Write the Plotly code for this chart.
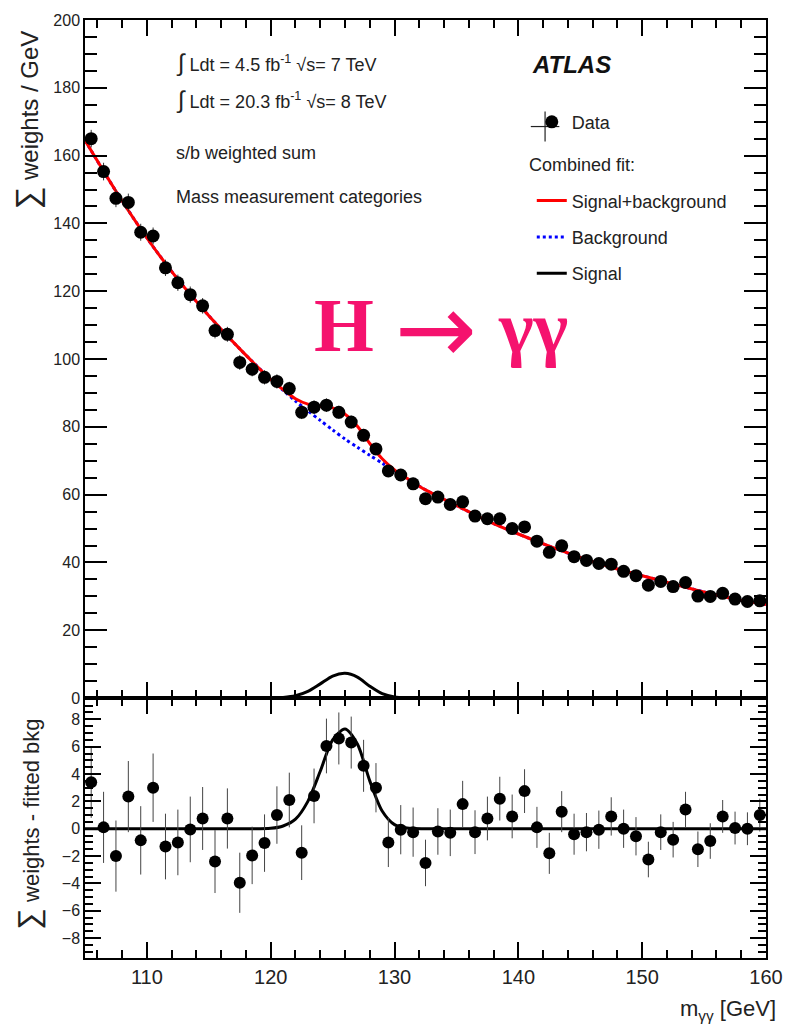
import plotly.graph_objects as go

# ---------------- data ----------------
mass = [105.5 + i for i in range(55)]  # bin centres, 1 GeV bins

weights = [165.0, 155.3, 147.4, 146.2, 137.4, 136.3, 126.9, 122.5, 119.0, 115.7,
           108.4, 107.3, 99.0, 97.0, 94.6, 93.4, 91.3, 84.3, 85.8, 86.4,
           84.3, 81.4, 77.5, 73.5, 67.0,
           65.8, 63.2, 58.8, 59.3, 57.1, 57.9, 53.7, 52.9, 52.9, 50.0,
           50.5, 46.3, 43.0, 44.9, 41.7, 40.6, 39.7, 39.5, 37.4, 36.1,
           33.3, 34.4, 32.9, 34.1, 30.1, 30.0, 30.9, 29.2, 28.5, 28.7]

residual = [3.4, 0.1, -2.0, 2.35, -0.85, 3.0, -1.3, -1.0, -0.05, 0.75,
            -2.4, 0.75, -3.95, -1.95, -1.05, 1.0, 2.1, -1.75, 2.4, 6.05,
            6.6, 6.3, 4.6, 3.0, -1.0,
            -0.07, -0.25, -2.5, -0.2, -0.3, 1.8, -0.25, 0.75, 2.2, 0.9,
            2.75, 0.1, -1.8, 1.25, -0.4, -0.25, -0.07, 0.9, 0.0, -0.55,
            -2.25, -0.25, -0.8, 1.4, -1.5, -0.9, 0.9, 0.05, 0.0, 1.0]

errors = [2.6, 2.6, 2.6, 2.6, 2.5, 2.5,
          2.4, 2.4, 2.4, 2.3, 2.3, 2.2, 2.2, 2.1, 2.1, 2.1,
          2.0, 2.0, 2.0, 2.0, 1.9, 1.9, 1.9, 1.8, 1.8, 1.8,
          1.8, 1.7, 1.7, 1.7, 1.7, 1.6, 1.6, 1.6, 1.6, 1.6,
          1.5, 1.5, 1.5, 1.5, 1.4, 1.4, 1.4, 1.4, 1.4, 1.3,
          1.3, 1.3, 1.3, 1.3, 1.3, 1.2, 1.2, 1.2, 1.2]

fit_x = [105, 107.5, 110, 112.5, 115, 117.5, 120, 121, 122, 123, 124, 125, 126,
         127, 128, 129, 130, 131, 132.5, 135, 137.5, 140, 142.5, 145, 147.5,
         150, 152.5, 155, 157.5, 160]
background = [164.5, 149.5, 135.7, 123.5, 112.8, 103.0, 94.0, 90.8, 87.6, 84.7,
              81.9, 79.1, 76.4, 74.0, 71.6, 69.3, 67.0, 64.8, 61.4, 56.8,
              52.3, 48.4, 44.8, 41.5, 38.6, 36.1, 33.7, 31.3, 29.2, 27.6]
signal = [0, 0, 0, 0, 0, 0, 0.03, 0.2, 0.7, 2.0, 4.2, 6.5, 7.3, 6.2, 3.5, 1.3,
          0.3, 0.05, 0, 0, 0, 0, 0, 0, 0, 0, 0, 0, 0, 0]
sig_plus_bkg = [b + s for b, s in zip(background, signal)]

# ---------------- geometry helpers (pixel -> coords) ----------------
PL, PR, PT, PB, PMID = 85, 777, 16, 958, 697


def xp(px):
    return 105 + (px - PL) * 55 / (PR - PL)


def yp(py):
    return (PMID - py) * 200 / (PMID - PT)


def pxr(px):
    return (px - PL) / (PR - PL)


def pyr(py):
    return (PB - py) / (PB - PT)


split = (PB - PMID) / (PB - PT)
FONT = "Liberation Sans, Arial, sans-serif"
TXT = "#222222"
PINK = "#f5126e"

fig = go.Figure()

# upper panel
fig.add_trace(go.Scatter(x=fit_x, y=background, mode="lines", name="Background",
                         line=dict(color="#0000ff", width=3, dash="dot", shape="spline", smoothing=0.8),
                         xaxis="x", yaxis="y", legend="legend2", legendgroup="b", legendrank=2))
fig.add_trace(go.Scatter(x=fit_x, y=sig_plus_bkg, mode="lines", name="Signal+background",
                         line=dict(color="#ff0000", width=3, shape="spline", smoothing=0.8),
                         xaxis="x", yaxis="y", legend="legend2", legendgroup="a", legendrank=1))
fig.add_trace(go.Scatter(x=fit_x, y=signal, mode="lines", name="Signal",
                         line=dict(color="#000000", width=3, shape="spline", smoothing=0.8),
                         xaxis="x", yaxis="y", legend="legend2", legendgroup="c", legendrank=3))
fig.add_trace(go.Scatter(x=mass, y=weights, mode="markers", name="Data",
                         marker=dict(color="#000000", size=13),
                         error_y=dict(type="data", array=errors, color="#333333", thickness=1, width=0),
                         xaxis="x", yaxis="y", legend="legend"))

# lower panel
fig.add_trace(go.Scatter(x=fit_x, y=signal, mode="lines", showlegend=False,
                         line=dict(color="#000000", width=3, shape="spline", smoothing=0.8),
                         xaxis="x2", yaxis="y2"))
fig.add_trace(go.Scatter(x=mass, y=residual, mode="markers", showlegend=False,
                         marker=dict(color="#000000", size=12),
                         error_y=dict(type="data", array=errors, color="#444444", thickness=1, width=0),
                         xaxis="x2", yaxis="y2"))

axis_common = dict(showgrid=False, zeroline=False, showline=True, linecolor="#000000",
                   linewidth=1.5, mirror="ticks", ticks="inside", tickcolor="#000000",
                   tickfont=dict(family=FONT, size=16, color=TXT))

fig.update_layout(
    width=795, height=1025,
    margin=dict(l=PL, r=795 - PR, t=PT, b=1025 - PB),
    paper_bgcolor="white", plot_bgcolor="white",
    xaxis=dict(domain=[0, 1], anchor="y", range=[105, 160], showticklabels=False,
               dtick=10, tick0=100, ticklen=16, tickwidth=1.5,
               minor=dict(dtick=2, tick0=100, ticks="inside", ticklen=8, tickcolor="#000000"),
               **axis_common),
    yaxis=dict(domain=[split, 1], anchor="x", range=[0, 200], dtick=20, ticklen=22, tickwidth=1.5,
               minor=dict(dtick=5, ticks="inside", ticklen=12, tickcolor="#000000"),
               **axis_common),
    xaxis2=dict(domain=[0, 1], anchor="y2", range=[105, 160], matches="x",
                dtick=10, tick0=100, ticklen=16, tickwidth=1.5,
                minor=dict(dtick=2, tick0=100, ticks="inside", ticklen=8, tickcolor="#000000"),
                **{**axis_common, "tickfont": dict(family=FONT, size=20, color=TXT)}),
    yaxis2=dict(domain=[0, split], anchor="x2", range=[-9.45, 9.55], dtick=2, ticklen=16, tickwidth=1.5,
                minor=dict(dtick=0.5, ticks="inside", ticklen=8, tickcolor="#000000"),
                **axis_common),
    legend=dict(x=pxr(539), y=pyr(100), xanchor="left", yanchor="top",
                bgcolor="rgba(0,0,0,0)", font=dict(family=FONT, size=18, color=TXT)),
    legend2=dict(x=pxr(539), y=pyr(179), xanchor="left", yanchor="top",
                 bgcolor="rgba(0,0,0,0)", tracegroupgap=10,
                 font=dict(family=FONT, size=18, color=TXT)),
    showlegend=True,
)

# error-bar cross of the Data legend entry
fig.add_shape(type="line", xref="paper", yref="paper", x0=pxr(538), x1=pxr(567),
              y0=pyr(123), y1=pyr(123), line=dict(color="#222222", width=1.2))
fig.add_shape(type="line", xref="paper", yref="paper", x0=pxr(552.5), x1=pxr(552.5),
              y0=pyr(108), y1=pyr(138), line=dict(color="#222222", width=1.2))

ann = []
INT = "<span style='font-size:24px'>∫</span>"
for txt, py in [(INT + " Ldt = 4.5 fb<sup>-1</sup> √s= 7 TeV", 59),
                (INT + " Ldt = 20.3 fb<sup>-1</sup> √s= 8 TeV", 96),
                ("s/b weighted sum", 150),
                ("Mass measurement categories", 194)]:
    ann.append(dict(text=txt, x=xp(175), y=yp(py), xref="x", yref="y", xanchor="left",
                    yanchor="middle", showarrow=False, font=dict(family=FONT, size=18, color=TXT)))
ann.append(dict(text="Combined fit:", x=xp(534), y=yp(162), xref="x", yref="y", xanchor="left",
                yanchor="middle", showarrow=False, font=dict(family=FONT, size=18, color=TXT)))
ann.append(dict(text="<b><i>ATLAS</i></b>", x=xp(579), y=yp(61), xref="x", yref="y",
                xanchor="center", yanchor="middle", showarrow=False,
                font=dict(family=FONT, size=24, color="#111111")))
SERIF = "Liberation Serif, Times New Roman, serif"
ann.append(dict(text="<b>H</b>", x=xp(348), y=yp(322), xref="x", yref="y",
                xanchor="center", yanchor="middle", showarrow=False,
                font=dict(family=SERIF, size=77, color=PINK)))
ann.append(dict(text="→", x=xp(442), y=yp(326), xref="x", yref="y",
                xanchor="center", yanchor="middle", showarrow=False,
                font=dict(family="DejaVu Sans, sans-serif", size=98, color=PINK)))
ann.append(dict(text="<b>γγ</b>", x=xp(540), y=yp(324), xref="x", yref="y",
                xanchor="center", yanchor="middle", showarrow=False,
                font=dict(family=SERIF, size=74, color=PINK)))
ann.append(dict(text="<span style='font-size:32px'>∑</span> weights / GeV", x=pxr(26), y=pyr(116),
                xref="paper", yref="paper", xanchor="center", yanchor="middle", textangle=-90,
                showarrow=False, font=dict(family=FONT, size=24, color=TXT)))
ann.append(dict(text="<span style='font-size:30px'>∑</span> weights - fitted bkg", x=pxr(28), y=pyr(823),
                xref="paper", yref="paper", xanchor="center", yanchor="middle", textangle=-90,
                showarrow=False, font=dict(family=FONT, size=22, color=TXT)))
ann.append(dict(text="m<sub>γγ</sub> [GeV]", x=1, y=pyr(1010), xref="paper", yref="paper",
                xanchor="right", yanchor="middle", xshift=12, showarrow=False,
                font=dict(family=FONT, size=22, color=TXT)))
fig.update_layout(annotations=ann)

fig.write_html("out.html")
